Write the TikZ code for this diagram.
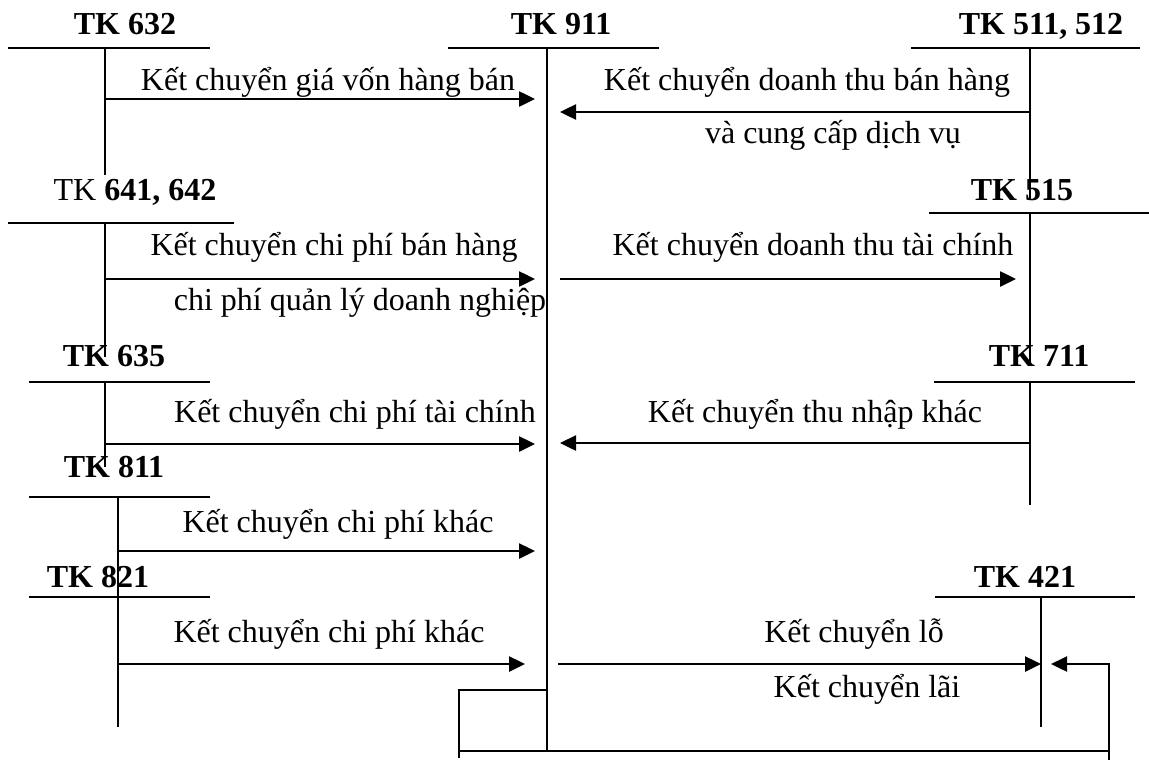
\documentclass[tikz,border=0pt]{standalone}
\usepackage{fontspec}
\setmainfont{Liberation Serif}
\usetikzlibrary{arrows.meta}

\tikzset{
  tk/.style={anchor=base, inner sep=0pt, font=\fontsize{14}{17}\selectfont\bfseries},
  note/.style={anchor=base, inner sep=0pt, font=\fontsize{14}{17}\selectfont},
  tacc/.style={line width=0.9pt},
  kc/.style={line width=1.3pt, -{Triangle[length=7pt,width=6.5pt]}},
}

\begin{document}
\begin{tikzpicture}[x=0.4375pt, y=-0.4375pt]
  \useasboundingbox (0,0) rectangle (1149,762);

  % account names
  \node[tk] (tk632) at (125,35) {TK 632};
  \node[tk] (tk911) at (561,35) {TK 911};
  \node[tk] (tk511) at (1041,35) {TK 511, 512};
  \node[tk] (tk641) at (135,200) {\mdseries TK \bfseries 641, 642};
  \node[tk] (tk515) at (1022,200) {TK 515};
  \node[tk] (tk635) at (114,366) {TK 635};
  \node[tk] (tk711) at (1039,366) {TK 711};
  \node[tk] (tk811) at (114,477) {TK 811};
  \node[tk] (tk821) at (98,587) {TK 821};
  \node[tk] (tk421) at (1025,587) {TK 421};

  % T-accounts
  \draw[tacc] (8,48) -- (210,48) (105,48) -- (105,175);
  \draw[tacc] (448,48) -- (659,48) (547,48) -- (547,751);
  \draw[tacc] (911,48) -- (1140,48) (1030,48) -- (1030,200);
  \draw[tacc] (8,223) -- (234,223) (105,223) -- (105,357);
  \draw[tacc] (929,213) -- (1149,213) (1030,213) -- (1030,362);
  \draw[tacc] (29,382) -- (210,382) (105,382) -- (105,467);
  \draw[tacc] (934,382) -- (1135,382) (1030,382) -- (1030,505);
  \draw[tacc] (29,497) -- (210,497) (118,497) -- (118,597);
  \draw[tacc] (29,597) -- (210,597) (118,597) -- (118,727);
  \draw[tacc] (935,597) -- (1135,597) (1041,597) -- (1041,727);

  % arrow ends
  \coordinate (s1) at (105,99);   \coordinate (e1) at (535,99);
  \coordinate (s2) at (1030,112); \coordinate (e2) at (560,112);
  \coordinate (s3) at (105,279);  \coordinate (e3) at (535,279);
  \coordinate (s4) at (560,279);  \coordinate (e4) at (1016,279);
  \coordinate (s5) at (105,444);  \coordinate (e5) at (535,444);
  \coordinate (s6) at (1030,443); \coordinate (e6) at (560,443);
  \coordinate (s7) at (118,551);  \coordinate (e7) at (535,551);
  \coordinate (s8) at (118,664);  \coordinate (e8) at (525,664);
  \coordinate (s9) at (558,664);  \coordinate (e9) at (1041,664);
  \coordinate (e10) at (1051,664);

  \draw[kc] (s1) -- (e1);
  \draw[kc] (s2) -- (e2);
  \draw[kc] (s3) -- (e3);
  \draw[kc] (s4) -- (e4);
  \draw[kc] (s5) -- (e5);
  \draw[kc] (s6) -- (e6);
  \draw[kc] (s7) -- (e7);
  \draw[kc] (s8) -- (e8);
  \draw[kc] (s9) -- (e9);

  % loop under TK 911
  \coordinate (b1) at (547,690);
  \coordinate (b2) at (459,690);
  \coordinate (b3) at (1109,751);
  \draw[tacc] (b1) -- (b2) -- (459,758);
  \draw[tacc] (459,751) -- (b3) -- (1109,760);
  \draw[kc] (b3) -- (1109,664) -- (e10);

  % entries
  \node[note] at (328,90) {Kết chuyển giá vốn hàng bán};
  \node[note] at (807,90) {Kết chuyển doanh thu bán hàng};
  \node[note] at (833,143) {và cung cấp dịch vụ};
  \node[note] at (334,255) {Kết chuyển chi phí bán hàng};
  \node[note] at (360,310) {chi phí quản lý doanh nghiệp};
  \node[note] at (813,255) {Kết chuyển doanh thu tài chính};
  \node[note] at (355,422) {Kết chuyển chi phí tài chính};
  \node[note] at (815,422) {Kết chuyển thu nhập khác};
  \node[note] at (338,532) {Kết chuyển chi phí khác};
  \node[note] at (329,642) {Kết chuyển chi phí khác};
  \node[note] at (854,642) {Kết chuyển lỗ};
  \node[note] at (867,697) {Kết chuyển lãi};
\end{tikzpicture}
\end{document}
